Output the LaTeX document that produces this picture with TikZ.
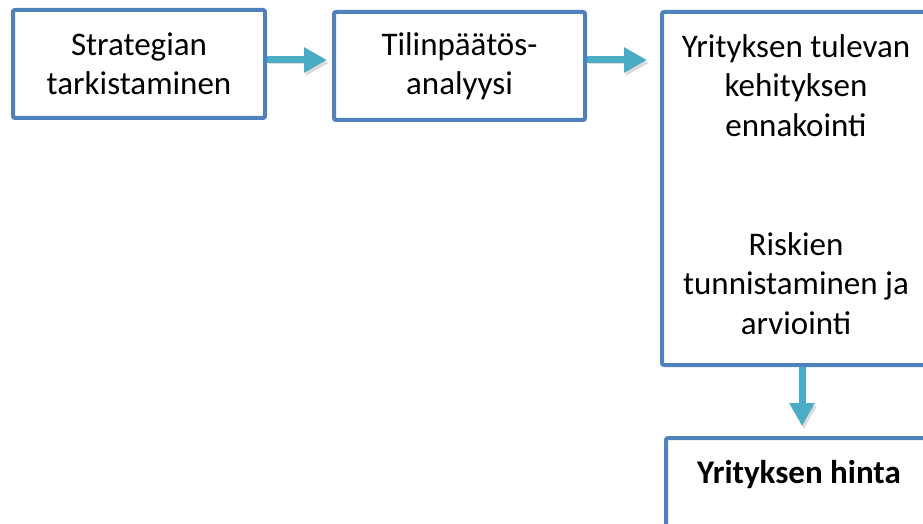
\documentclass[tikz,border=0pt]{standalone}
\usepackage{fontspec}
\setmainfont{Carlito}
\usetikzlibrary{arrows.meta}
\definecolor{boxblue}{RGB}{79,129,189}
\definecolor{arrowteal}{RGB}{75,172,198}
\begin{document}
\begin{tikzpicture}[x=1pt,y=1pt,
    phase/.style={draw=boxblue, line width=4pt, rounded corners=2pt, align=center, inner sep=0pt, font=\fontsize{33}{39}\selectfont},
    flow/.style={arrowteal, line width=7pt, -{Triangle[length=23pt,width=24pt]},
      preaction={draw=black!14, transform canvas={xshift=2pt,yshift=-3pt}}}]
    \useasboundingbox (0,0) rectangle (923,523);

    \node[phase, minimum width=252pt, minimum height=108pt] (strategy) at (139,459) {Strategian\\tarkistaminen};
    \node[phase, minimum width=251pt, minimum height=108pt] (analysis) at (459.5,457) {Tilinpäätös-\\analyysi};
    \node[phase, minimum width=268pt, minimum height=353pt, text depth=8pt, font=\fontsize{33}{39.6}\selectfont] (forecast) at (796,334.5)
        {Yrityksen tulevan\\kehityksen\\ennakointi\\[79.2pt]Riskien\\tunnistaminen ja\\arviointi};
    \node[phase, minimum width=266pt, minimum height=92pt, text depth=25pt, font=\fontsize{33}{39}\selectfont\bfseries] (price) at (799,39) {Yrityksen hinta};

    \coordinate (row) at (0,463);
    \coordinate (col) at (802,0);
    \draw[flow] (strategy.east |- row) -- ([xshift=-5pt]analysis.west |- row);
    \draw[flow] (analysis.east |- row) -- ([xshift=-13pt]forecast.west |- row);
    \draw[flow, shorten >=10pt] (forecast.south -| col) -- (price.north -| col);
\end{tikzpicture}
\end{document}
